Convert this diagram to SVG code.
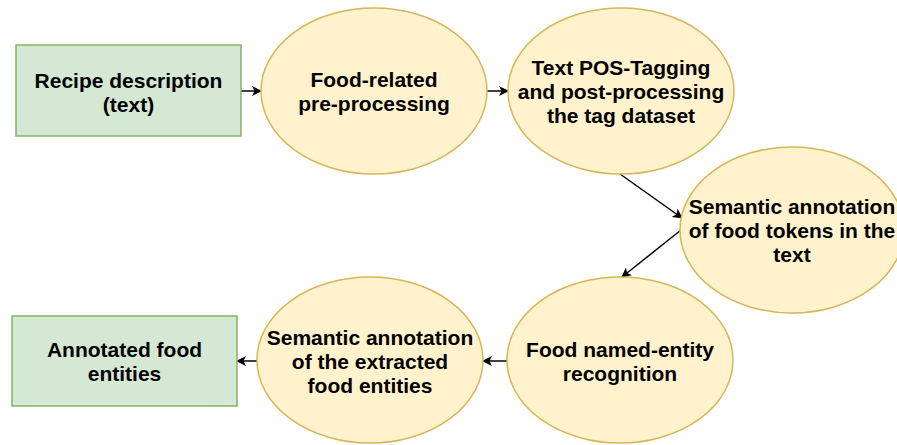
<svg xmlns="http://www.w3.org/2000/svg" width="897" height="445" viewBox="0 0 897 445">
<style>
.box{fill:#d5e8d4;stroke:#82b366;stroke-width:1.5}
.ell{fill:#fff2cc;stroke:#d6b656;stroke-width:1.5}
.t{font-family:"Liberation Sans",Arial,sans-serif;font-weight:bold;font-size:21px;fill:#000;text-anchor:middle}
.c{stroke:#000;stroke-width:1.5;fill:none;marker-end:url(#ah)}
</style>
<defs>
<marker id="ah" viewBox="0 0 10 10" refX="9" refY="5" markerWidth="10" markerHeight="10" markerUnits="userSpaceOnUse" orient="auto">
<path d="M0,0 L10,5 L0,10 L2.5,5 Z" fill="#000"/>
</marker>
</defs>
<rect width="897" height="445" fill="#fff"/>
<g id="connectors">
<line class="c" x1="241" y1="91" x2="261" y2="91"/>
<line class="c" x1="487" y1="91" x2="508" y2="91"/>
<line class="c" x1="620" y1="174" x2="682" y2="218"/>
<line class="c" x1="681" y1="230" x2="622" y2="277"/>
<line class="c" x1="507" y1="361" x2="483" y2="361"/>
<line class="c" x1="257" y1="361" x2="237" y2="361"/>
</g>
<g id="n1">
<rect class="box" x="16" y="45" width="225" height="91"/>
<text class="t" x="128.5" y="88">Recipe description</text>
<text class="t" x="128.5" y="112">(text)</text>
</g>
<g id="n2">
<ellipse class="ell" cx="374" cy="91" rx="113" ry="83"/>
<text class="t" x="374" y="87">Food-related</text>
<text class="t" x="374" y="111">pre-processing</text>
</g>
<g id="n3">
<ellipse class="ell" cx="621" cy="91" rx="113" ry="83"/>
<text class="t" x="621" y="75">Text POS-Tagging</text>
<text class="t" x="621" y="99">and post-processing</text>
<text class="t" x="621" y="123">the tag dataset</text>
</g>
<g id="n4">
<ellipse class="ell" cx="792" cy="230" rx="112" ry="83"/>
<text class="t" x="792" y="214">Semantic annotation</text>
<text class="t" x="792" y="238">of food tokens in the</text>
<text class="t" x="792" y="262">text</text>
</g>
<g id="n5">
<ellipse class="ell" cx="620" cy="360" rx="113" ry="83"/>
<text class="t" x="620" y="357">Food named-entity</text>
<text class="t" x="620" y="381">recognition</text>
</g>
<g id="n6">
<ellipse class="ell" cx="370" cy="360" rx="113" ry="83"/>
<text class="t" x="370" y="345">Semantic annotation</text>
<text class="t" x="370" y="369">of the extracted</text>
<text class="t" x="370" y="393">food entities</text>
</g>
<g id="n7">
<rect class="box" x="12" y="316" width="225" height="90"/>
<text class="t" x="124.5" y="357">Annotated food</text>
<text class="t" x="124.5" y="381">entities</text>
</g>
</svg>
